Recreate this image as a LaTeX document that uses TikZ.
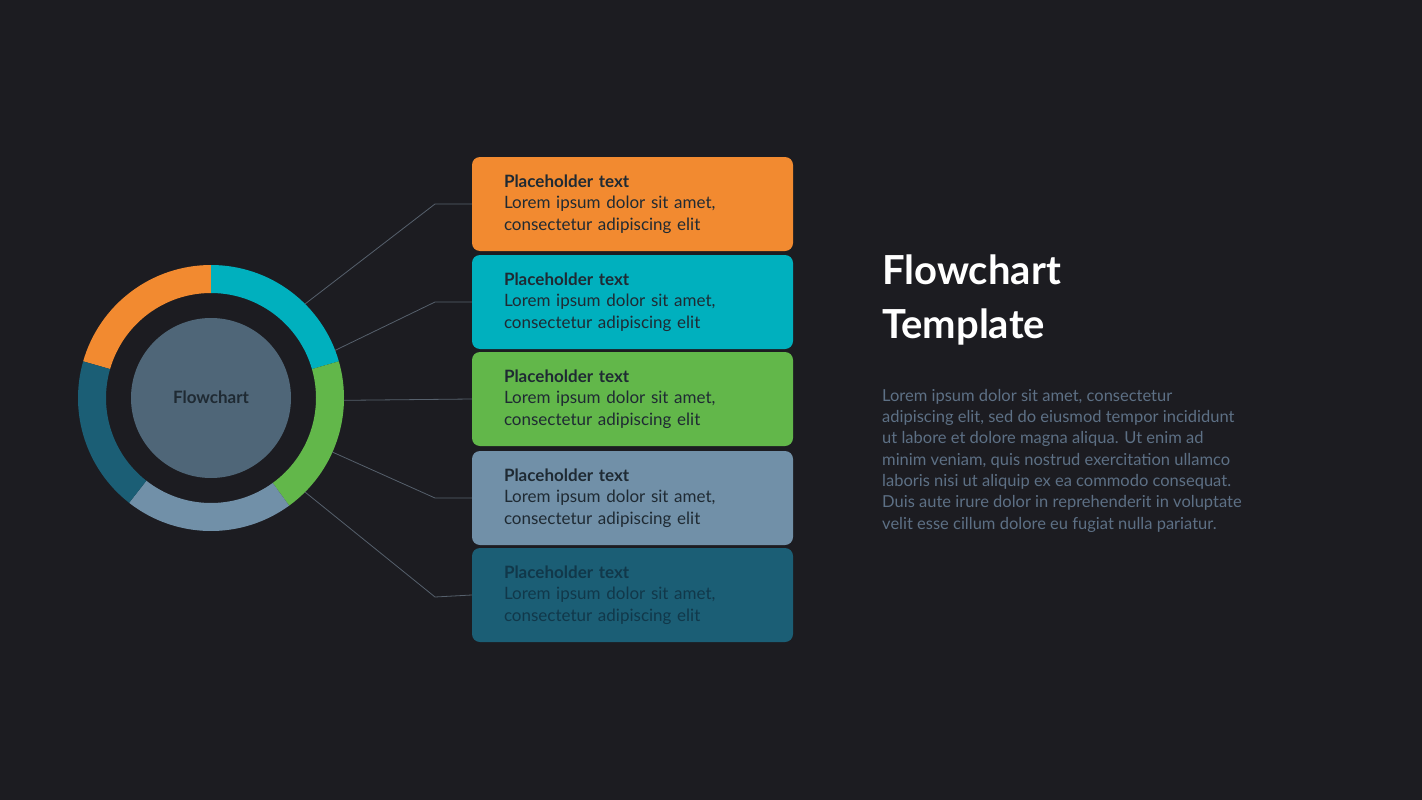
\documentclass[tikz,border=0pt]{standalone}
\usepackage{fontspec}
\setmainfont{Lato}
\definecolor{bg}{HTML}{1C1C21}
\definecolor{corange}{HTML}{F28A30}
\definecolor{cteal}{HTML}{00B0BE}
\definecolor{cgreen}{HTML}{62B74A}
\definecolor{csteel}{HTML}{7190A8}
\definecolor{cdark}{HTML}{1B5E75}
\definecolor{cinner}{HTML}{4F6678}
\definecolor{ctext}{HTML}{1F2A33}
\definecolor{cdtext}{HTML}{11384A}
\definecolor{cbody}{HTML}{5D7085}
\definecolor{cline}{HTML}{56606C}
\begin{document}
\begin{tikzpicture}[x=1pt,y=-1pt,
  box/.style={minimum width=321pt,minimum height=94pt,rounded corners=8pt,inner xsep=32pt,text width=257pt,align=left,font=\fontsize{17}{21.5}\selectfont,text=ctext},
  conn/.style={draw=cline,line width=0.8pt}]
\fill[bg] (0,0) rectangle (1422,800);
\begin{scope}[shift={(211,398)},yscale=-1]
\def\seg#1#2#3{\fill[#3] (#1:133) arc[start angle=#1,end angle=#2,radius=133] -- (#2:105) arc[start angle=#2,end angle=#1,radius=105] -- cycle;}
\seg{90}{164}{corange}
\seg{16}{90}{cteal}
\seg{-54}{16}{cgreen}
\seg{-128}{-54}{csteel}
\seg{164}{232}{cdark}
\fill[cinner] (0,0) circle (80);
\coordinate (r1) at (45:133);
\coordinate (r2) at (21:133);
\coordinate (r3) at (-1:133);
\coordinate (r4) at (-24:133);
\coordinate (r5) at (-45:133);
\end{scope}
\node[text=ctext,font=\fontsize{17}{20}\selectfont\bfseries] (fc) at (211,397) {Flowchart};
\node[box,fill=corange] (b1) at (632.5,204) {\textbf{Placeholder text}\\Lorem ipsum dolor sit amet,\\consectetur adipiscing elit};
\node[box,fill=cteal] (b2) at (632.5,302) {\textbf{Placeholder text}\\Lorem ipsum dolor sit amet,\\consectetur adipiscing elit};
\node[box,fill=cgreen] (b3) at (632.5,399) {\textbf{Placeholder text}\\Lorem ipsum dolor sit amet,\\consectetur adipiscing elit};
\node[box,fill=csteel] (b4) at (632.5,498) {\textbf{Placeholder text}\\Lorem ipsum dolor sit amet,\\consectetur adipiscing elit};
\node[box,fill=cdark,text=cdtext] (b5) at (632.5,595) {\textbf{Placeholder text}\\Lorem ipsum dolor sit amet,\\consectetur adipiscing elit};
\draw[conn] (r1) -- (435,204) -- (b1.west);
\draw[conn] (r2) -- (435,302) -- (b2.west);
\draw[conn] (r3) -- (b3.west);
\draw[conn] (r4) -- (435,498) -- (b4.west);
\draw[conn] (r5) -- (435,597) -- (b5.west);
\node[anchor=north west,inner sep=0,align=left,text=white,font=\fontsize{40}{54}\selectfont\bfseries] (title) at (882,255) {Flowchart\\Template};
\node[anchor=north west,inner sep=0,align=left,text=cbody,font=\fontsize{16.5}{21.3}\selectfont] (body) at (882,389) {Lorem ipsum dolor sit amet, consectetur\\adipiscing elit, sed do eiusmod tempor incididunt\\ut labore et dolore magna aliqua. Ut enim ad\\minim veniam, quis nostrud exercitation ullamco\\laboris nisi ut aliquip ex ea commodo consequat.\\Duis aute irure dolor in reprehenderit in voluptate\\velit esse cillum dolore eu fugiat nulla pariatur.};
\end{tikzpicture}
\end{document}
